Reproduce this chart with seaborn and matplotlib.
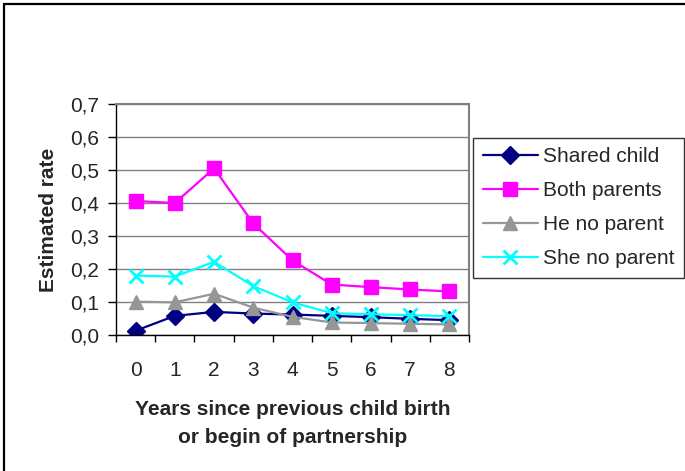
import matplotlib
matplotlib.use("Agg")
import matplotlib.pyplot as plt
import seaborn as sns
from matplotlib.lines import Line2D

# Data
years = [0, 1, 2, 3, 4, 5, 6, 7, 8]
shared_child = [0.013, 0.058, 0.070, 0.065, 0.062, 0.058, 0.054, 0.049, 0.045]
both_parents = [0.406, 0.400, 0.505, 0.338, 0.226, 0.153, 0.145, 0.138, 0.132]
he_no_parent = [0.101, 0.099, 0.125, 0.083, 0.055, 0.038, 0.036, 0.034, 0.032]
she_no_parent = [0.180, 0.177, 0.222, 0.148, 0.099, 0.066, 0.063, 0.060, 0.057]
series_names = ["Shared child", "Both parents", "He no parent", "She no parent"]
y_ticks = [0.0, 0.1, 0.2, 0.3, 0.4, 0.5, 0.6, 0.7]

series = [
    (shared_child, "#000080", "D", 9),
    (both_parents, "#FF00FF", "s", 10),
    (he_no_parent, "#969696", "^", 10),
    (she_no_parent, "#00FFFF", "x", 10),
]

sns.set_theme(style="white")
plt.rcParams["font.family"] = ["Liberation Sans", "DejaVu Sans"]

fig = plt.figure(figsize=(6.85, 4.71), dpi=100)
ax = fig.add_axes([116 / 685, 1 - 335 / 471, (469 - 116) / 685, (335 - 104) / 471])

for (vals, color, marker, ms), name in zip(series, series_names):
    sns.lineplot(x=years, y=vals, ax=ax, color=color, marker=marker,
                 markersize=ms, markeredgecolor=color, markeredgewidth=2 if marker == "x" else 1,
                 linewidth=1.6, label=name, legend=False)

ax.set_xlim(-0.5, 8.5)
ax.set_ylim(0, 0.7)
ax.set_yticks(y_ticks)
ax.set_yticklabels([f"{v:.1f}".replace(".", ",") for v in y_ticks], fontsize=15)
ax.set_xticks(years)
ax.set_xticklabels([str(y) for y in years], fontsize=15)
ax.set_xticks([y - 0.5 for y in years] + [8.5], minor=True)
ax.tick_params(axis="x", which="major", length=0, pad=19)
ax.tick_params(axis="x", which="minor", length=5, width=1, color="black", direction="out", bottom=True)
ax.tick_params(axis="y", length=6, width=1, color="black", direction="out", left=True, pad=6)
ax.grid(axis="y", color="#808080", linewidth=1)
ax.set_axisbelow(True)
for side in ["top", "right"]:
    ax.spines[side].set_color("#808080")
    ax.spines[side].set_linewidth(1.5)
for side in ["left", "bottom"]:
    ax.spines[side].set_color("black")
    ax.spines[side].set_linewidth(1)

ax.set_xlabel("Years since previous child birth\nor begin of partnership",
              fontsize=15, fontweight="bold", labelpad=14, linespacing=1.6)
ax.set_ylabel("Estimated rate", fontsize=15, fontweight="bold", labelpad=9)

handles = [Line2D([0], [0], color=c, marker=m, markersize=ms, markeredgecolor=c,
                  markeredgewidth=2 if m == "x" else 1, linewidth=1.6)
           for _, c, m, ms in series]
leg = fig.legend(handles, series_names, loc="upper right",
                 bbox_to_anchor=(684 / 685, 1 - 138 / 471), fontsize=15,
                 frameon=True, fancybox=False, edgecolor="black",
                 handlelength=2.65, handletextpad=0.25, labelspacing=0.72,
                 borderpad=0.45, borderaxespad=0)
leg.get_frame().set_linewidth(1)

# outer chart border (only top and left visible)
fig.add_artist(Line2D([4 / 685, 4 / 685], [0, 1 - 4 / 471], color="black", linewidth=1.6))
fig.add_artist(Line2D([4 / 685, 1], [1 - 4 / 471, 1 - 4 / 471], color="black", linewidth=1.6))

fig.savefig("out.png", dpi=100)
